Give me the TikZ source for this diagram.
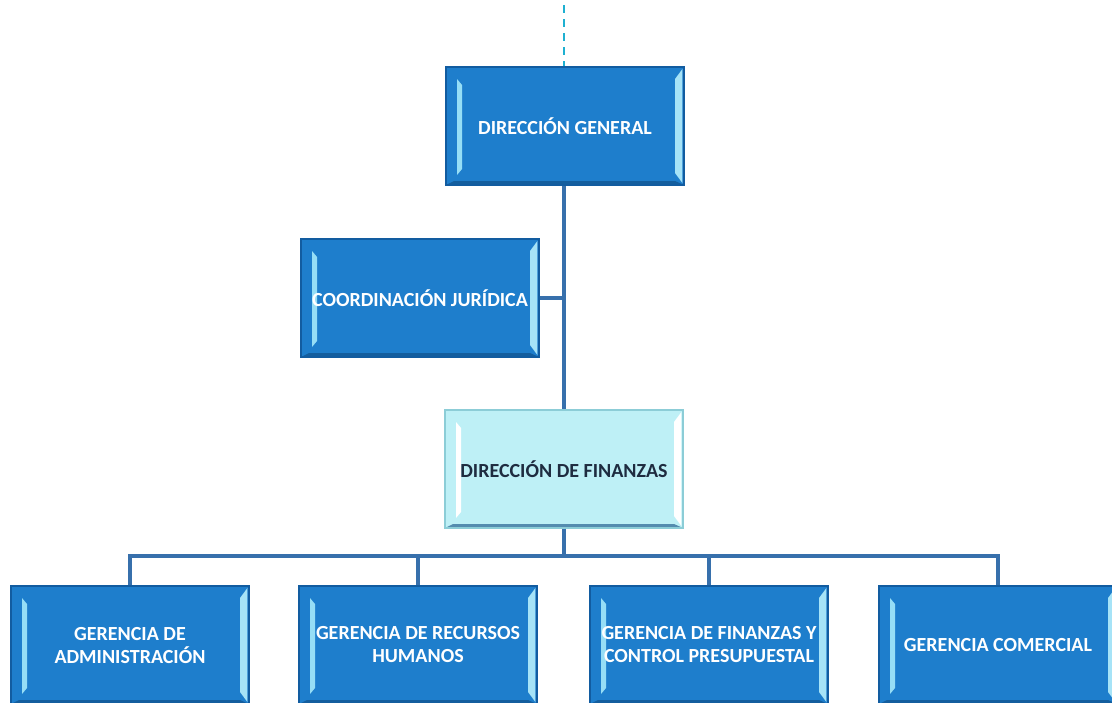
\documentclass[tikz,border=0pt]{standalone}
\usepackage{fontspec}
\newfontfamily\boxfont{Carlito}
\definecolor{boxblue}{RGB}{30,126,204}
\definecolor{boxedge}{RGB}{18,92,160}
\definecolor{bevlite}{RGB}{150,222,246}
\colorlet{facet}{bevlite}
\definecolor{cyanbox}{RGB}{190,240,246}
\definecolor{cyanedge}{RGB}{140,205,215}
\definecolor{linkblue}{RGB}{55,112,172}
\definecolor{navytext}{RGB}{30,44,64}
\begin{document}
\begin{tikzpicture}[x=0.5pt,y=-0.5pt,
  facetcolor/.code={\colorlet{facet}{#1}},
  unitbox/.style={rectangle,minimum width=119pt,minimum height=59pt,inner sep=0pt,
    fill=boxblue,draw=boxedge,line width=0.6pt,text=white,align=center,
    font=\boxfont\bfseries\fontsize{10}{11.5}\selectfont,
    path picture={
      % left facet
      \fill[facet] ([shift={(5.5pt,-6pt)}]path picture bounding box.north west)
        -- ([shift={(8pt,-9pt)}]path picture bounding box.north west)
        -- ([shift={(8pt,8pt)}]path picture bounding box.south west)
        -- ([shift={(5.5pt,5pt)}]path picture bounding box.south west) -- cycle;
      % right facet
      \fill[facet!85!white] ([shift={(-0.8pt,-1pt)}]path picture bounding box.north east)
        -- ([shift={(-4.5pt,-6pt)}]path picture bounding box.north east)
        -- ([shift={(-4.5pt,6pt)}]path picture bounding box.south east)
        -- ([shift={(-0.8pt,1pt)}]path picture bounding box.south east) -- cycle;
      % bottom facet
      \fill[boxedge!80!black,opacity=0.6] (path picture bounding box.south west)
        -- ([shift={(4pt,2pt)}]path picture bounding box.south west)
        -- ([shift={(-4.5pt,2pt)}]path picture bounding box.south east)
        -- (path picture bounding box.south east) -- cycle;
    }},
  headbox/.style={unitbox,fill=cyanbox,draw=cyanedge,text=navytext,facetcolor=white},
  link/.style={draw=linkblue,line width=1.8pt},
  toplink/.style={draw=linkblue!55!cyan,line width=0.9pt,dash pattern=on 4pt off 3pt}]

\useasboundingbox (0,0) rectangle (1112,702);
\fill[white] (0,0) rectangle (1112,702);
\clip (0,0) rectangle (1112,702);

\coordinate (above) at (564,5);
\coordinate (bus) at (564,556);

\node[unitbox] (direccion) at (565,126) {DIRECCIÓN GENERAL};
\node[unitbox] (juridica) at (420,298) {COORDINACIÓN JURÍDICA};
\node[headbox] (finanzas) at (564,469) {DIRECCIÓN DE FINANZAS};
\node[unitbox] (admin) at (130,645) {GERENCIA DE\\ADMINISTRACIÓN};
\node[unitbox] (rrhh) at (418,645) {GERENCIA DE RECURSOS\\HUMANOS};
\node[unitbox] (presupuesto) at (709,645) {GERENCIA DE FINANZAS Y\\CONTROL PRESUPUESTAL};
\node[unitbox] (comercial) at (998,645) {GERENCIA COMERCIAL};

\draw[toplink] (above) -- (above |- direccion.north);
\draw[link] (direccion.south -| above) -- (finanzas.north -| above);
\draw[link] (juridica.east) -- (juridica.east -| above);
\draw[link] (finanzas.south -| above) -- (bus);
\foreach \n in {admin,rrhh,presupuesto,comercial}
  \draw[link] (bus) -| (\n.north);

\end{tikzpicture}
\end{document}
